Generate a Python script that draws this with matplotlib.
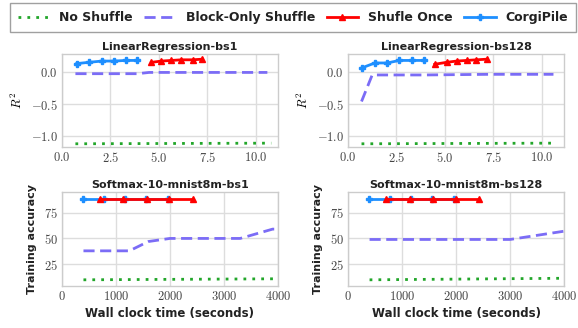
import matplotlib
matplotlib.use('Agg')
import matplotlib.pyplot as plt
import matplotlib.ticker as mticker
from matplotlib.lines import Line2D

plt.rcParams['mathtext.fontset'] = 'cm'

# ── Data ──────────────────────────────────────────────────────────────
# LinearRegression-bs1 (x in 1000 s)
lr1_no_x = [0.7, 10.8]
lr1_no_y = [-1.13, -1.12]
lr1_blk_x = [0.7, 2.0, 3.9, 4.5, 6.0, 8.0, 10.6]
lr1_blk_y = [-0.02, -0.02, -0.02, 0.0, 0.0, 0.0, 0.0]
lr1_once_x = [4.62, 5.14, 5.65, 6.17, 6.74, 7.25]
lr1_once_y = [0.16, 0.18, 0.19, 0.20, 0.20, 0.21]
lr1_corgi_x = [0.77, 1.39, 2.06, 2.68, 3.30, 3.90]
lr1_corgi_y = [0.14, 0.16, 0.18, 0.18, 0.19, 0.19]

# LinearRegression-bs128
lr128_no_x = [0.7, 10.6]
lr128_no_y = [-1.13, -1.12]
lr128_blk_x = [0.7, 1.25, 4.0, 7.3, 10.6]
lr128_blk_y = [-0.46, -0.04, -0.04, -0.03, -0.03]
lr128_once_x = [4.48, 5.09, 5.60, 6.12, 6.63, 7.18]
lr128_once_y = [0.13, 0.16, 0.18, 0.19, 0.20, 0.21]
lr128_corgi_x = [0.70, 1.39, 2.03, 2.65, 3.28, 3.92]
lr128_corgi_y = [0.07, 0.15, 0.15, 0.19, 0.19, 0.19]

# Softmax-10-mnist8m-bs1 (x in seconds)
sm1_no_x = [400, 4000]
sm1_no_y = [10, 11]
sm1_blk_x = [400, 800, 1250, 1600, 2000, 2400, 2800, 3300, 3900, 4000]
sm1_blk_y = [38, 38, 38, 47, 50, 50, 50, 50, 59, 59]
sm1_once_x = [700, 1140, 1570, 1990, 2420]
sm1_once_y = [88, 88, 88, 88, 88]
sm1_corgi_x = [390, 780, 1170, 1560, 1960]
sm1_corgi_y = [88, 88, 88, 88, 88]

# Softmax-10-mnist8m-bs128
sm128_no_x = [400, 4000]
sm128_no_y = [10, 11.5]
sm128_blk_x = [400, 1000, 2000, 3000, 4000]
sm128_blk_y = [49, 49, 49, 49, 57]
sm128_once_x = [700, 1140, 1570, 1990, 2420]
sm128_once_y = [88, 88, 88, 88, 88]
sm128_corgi_x = [390, 780, 1170, 1560, 1960]
sm128_corgi_y = [88, 88, 88, 88, 88]

labels = ['No Shuffle', 'Block-Only Shuffle', 'Shufle Once', 'CorgiPile']

GREEN = '#22a62a'
PURPLE = '#7b6cf6'
RED = '#ff0000'
BLUE = '#1e8fff'

panels = [
    ('LinearRegression-bs1', lr1_no_x, lr1_no_y, lr1_blk_x, lr1_blk_y,
     lr1_once_x, lr1_once_y, lr1_corgi_x, lr1_corgi_y),
    ('LinearRegression-bs128', lr128_no_x, lr128_no_y, lr128_blk_x, lr128_blk_y,
     lr128_once_x, lr128_once_y, lr128_corgi_x, lr128_corgi_y),
    ('Softmax-10-mnist8m-bs1', sm1_no_x, sm1_no_y, sm1_blk_x, sm1_blk_y,
     sm1_once_x, sm1_once_y, sm1_corgi_x, sm1_corgi_y),
    ('Softmax-10-mnist8m-bs128', sm128_no_x, sm128_no_y, sm128_blk_x, sm128_blk_y,
     sm128_once_x, sm128_once_y, sm128_corgi_x, sm128_corgi_y),
]

# axes rectangles [left, bottom, width, height] in figure fraction
rects = [
    [0.107, 0.552, 0.374, 0.283],
    [0.602, 0.552, 0.374, 0.283],
    [0.107, 0.128, 0.374, 0.287],
    [0.602, 0.128, 0.374, 0.287],
]

fig = plt.figure(figsize=(5.78, 3.28), dpi=100)
fig.patch.set_facecolor('white')

DOT = (0, (1, 2.2))
DASH = (0, (4, 2))

for i, (title, nx, ny, bx, by, ox, oy, cx, cy) in enumerate(panels):
    ax = fig.add_axes(rects[i])
    ax.plot(nx, ny, color=GREEN, linestyle=DOT, linewidth=2)
    ax.plot(bx, by, color=PURPLE, linestyle=DASH, linewidth=2)
    ax.plot(ox, oy, color=RED, linewidth=2, marker='^', markersize=5, zorder=4)
    ax.plot(cx, cy, color=BLUE, linewidth=2, marker='P', markersize=5, zorder=3)

    ax.set_title(title, fontsize=8, fontweight='bold', pad=3, color='#222222')
    if i < 2:
        ax.set_xlim(0, 11.15)
        ax.set_ylim(-1.18, 0.29)
        ax.set_xticks([0, 2.5, 5.0, 7.5, 10.0])
        ax.set_yticks([-1.0, -0.5, 0.0])
        ax.xaxis.set_major_formatter(mticker.FuncFormatter(lambda v, _: f'${v:.1f}$'))
        ax.yaxis.set_major_formatter(mticker.FuncFormatter(lambda v, _: f'${v:.1f}$'))
        ax.set_ylabel('$R^2$', fontsize=9, labelpad=4)
    else:
        ax.set_xlim(0, 4000)
        ax.set_ylim(4, 95)
        ax.set_xticks([0, 1000, 2000, 3000, 4000])
        ax.set_yticks([25, 50, 75])
        ax.xaxis.set_major_formatter(mticker.FuncFormatter(lambda v, _: f'${v:.0f}$'))
        ax.yaxis.set_major_formatter(mticker.FuncFormatter(lambda v, _: f'${v:.0f}$'))
        ax.set_ylabel('Training accuracy', fontsize=8, fontweight='bold', labelpad=5,
                      color='#222222')
        ax.set_xlabel('Wall clock time (seconds)', fontsize=8.5, fontweight='bold',
                      labelpad=3, color='#222222')

    ax.tick_params(axis='both', labelsize=9, length=0, pad=3, colors='#444444')
    for s in ax.spines.values():
        s.set_color('#cccccc')
        s.set_linewidth(1.0)
    ax.grid(True, color='#dddddd', linewidth=1.0)
    ax.set_axisbelow(True)

handles = [
    Line2D([], [], color=GREEN, linestyle=DOT, linewidth=2),
    Line2D([], [], color=PURPLE, linestyle=DASH, linewidth=2),
    Line2D([], [], color=RED, linewidth=2, marker='^', markersize=5),
    Line2D([], [], color=BLUE, linewidth=2, marker='P', markersize=5),
]
leg = fig.legend(handles, labels, loc='upper left', mode='expand',
                 bbox_to_anchor=(0.017, 0.0, 0.98, 0.991),
                 ncol=4, frameon=True, fancybox=False, edgecolor='#888888',
                 prop={'weight': 'bold', 'size': 9}, columnspacing=1.5,
                 handlelength=2.5, borderpad=0.65, borderaxespad=0.0)
leg.get_frame().set_linewidth(1.0)
for t in leg.get_texts():
    t.set_color('#222222')

plt.savefig('out.png', dpi=100, facecolor='white')
print("Saved: out.png")
